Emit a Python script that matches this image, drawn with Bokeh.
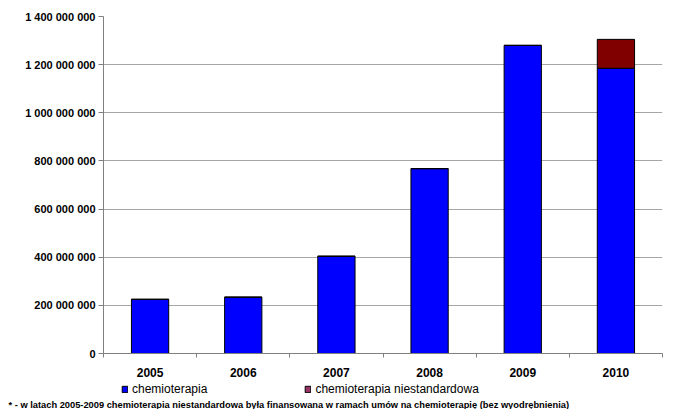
from bokeh.plotting import figure
from bokeh.layouts import column
from bokeh.models import (FactorRange, Range1d, LinearAxis, CategoricalAxis, FixedTicker,
                          Legend, LegendItem, Title, Grid, ColumnDataSource)
from bokeh.embed import file_html
from bokeh.resources import INLINE

years = ["2005", "2006", "2007", "2008", "2009", "2010"]
chemioterapia = [225e6, 234e6, 404e6, 768e6, 1280e6, 1185e6]
niestandardowa = [0, 0, 0, 0, 0, 120e6]
series_names = ["chemioterapia", "chemioterapia niestandardowa"]
y_ticks = [0, 200e6, 400e6, 600e6, 800e6, 1000e6, 1200e6, 1400e6]
y_tick_labels = ["0", "200 000 000", "400 000 000", "600 000 000", "800 000 000",
                 "1 000 000 000", "1 200 000 000", "1 400 000 000"]
footnote = ("* - w latach 2005-2009 chemioterapia niestandardowa była finansowana "
            "w ramach umów na chemioterapię (bez wyodrębnienia)")

FONT = "Liberation Sans"

source = ColumnDataSource(dict(x=years, chemio=chemioterapia, niest=niestandardowa))

p = figure(x_range=FactorRange(*years), y_range=Range1d(y_ticks[0], y_ticks[-1]),
           width=680, height=380, output_backend="svg", toolbar_location=None,
           x_axis_location=None, y_axis_location=None,
           min_border_left=103, min_border_right=18, min_border_top=16, min_border_bottom=27)
p.outline_line_color = None
p.background_fill_color = "white"
p.border_fill_color = "white"
p.center = []  # drop default grids

p.vbar_stack(["chemio", "niest"], x="x", width=0.4, source=source,
             fill_color=["#0000FF", "#800000"], line_color="black", line_width=1)

# y axis
yaxis = LinearAxis(ticker=FixedTicker(ticks=y_ticks))
yaxis.major_label_overrides = {t: l for t, l in zip(y_ticks, y_tick_labels)}
yaxis.axis_line_color = "#808080"
yaxis.major_tick_line_color = "#808080"
yaxis.major_tick_out = 5
yaxis.major_tick_in = 0
yaxis.minor_tick_line_color = None
yaxis.major_label_standoff = 3
yaxis.major_label_text_font = FONT
yaxis.major_label_text_font_style = "bold"
yaxis.major_label_text_font_size = "11px"
yaxis.major_label_text_color = "black"
p.add_layout(yaxis, "left")

# grid
p.add_layout(Grid(dimension=1, ticker=yaxis.ticker, grid_line_color="#a6a6a6", grid_line_width=1))
p.add_layout(Grid(dimension=1, ticker=FixedTicker(ticks=[y_ticks[-1]]), grid_line_color="black",
                  grid_line_width=1))

# boundary ticks between categories (synthetic category coordinates) as minor ticks
baxis = LinearAxis(ticker=FixedTicker(ticks=[], minor_ticks=list(range(len(years) + 1))))
baxis.axis_line_color = "#808080"
baxis.minor_tick_line_color = "#808080"
baxis.minor_tick_out = 4
baxis.minor_tick_in = 0
baxis.major_tick_out = 4
baxis.major_tick_in = 0
baxis.major_label_standoff = 0
p.add_layout(baxis, "below")

xaxis = CategoricalAxis()
xaxis.axis_line_color = None
xaxis.major_tick_line_color = None
xaxis.major_tick_out = 0
xaxis.major_label_standoff = 10
xaxis.major_label_text_font = FONT
xaxis.major_label_text_font_style = "bold"
xaxis.major_label_text_font_size = "12px"
xaxis.major_label_text_color = "black"
p.add_layout(xaxis, "below")

# legend + footnote strip (frame aligned with the main plot's frame)
f2 = figure(width=680, height=29, output_backend="svg", toolbar_location=None,
            x_range=FactorRange(*years), y_range=Range1d(0, 1),
            x_axis_location=None, y_axis_location=None, min_border=0)
f2.outline_line_color = None
f2.center = []
nan = float("nan")
legend_src = ColumnDataSource(dict(x=[years[0]], top=[nan]))
r1 = f2.vbar(x="x", top="top", source=legend_src, width=0.4,
             fill_color="#0000FF", line_color="black")
r2 = f2.vbar(x="x", top="top", source=legend_src, width=0.4,
             fill_color="#993366", line_color="black")
legend = Legend(items=[LegendItem(label=series_names[0], renderers=[r1]),
                       LegendItem(label=series_names[1], renderers=[r2])],
                orientation="horizontal", location=(18, 1),
                glyph_width=7, glyph_height=8, label_height=14, label_standoff=4,
                spacing=97, padding=0, margin=0, border_line_color=None,
                background_fill_alpha=0, label_text_font=FONT, label_text_font_size="12px",
                label_text_color="black")
f2.add_layout(legend, "center")

note = Title(text=footnote, align="left", offset=-95, standoff=0,
             text_font=FONT, text_font_style="bold", text_font_size="9.3px",
             text_color="black")
f2.add_layout(note, "below")

layout = column(p, f2, spacing=0)
open("out.html", "w").write(file_html(layout, INLINE))
